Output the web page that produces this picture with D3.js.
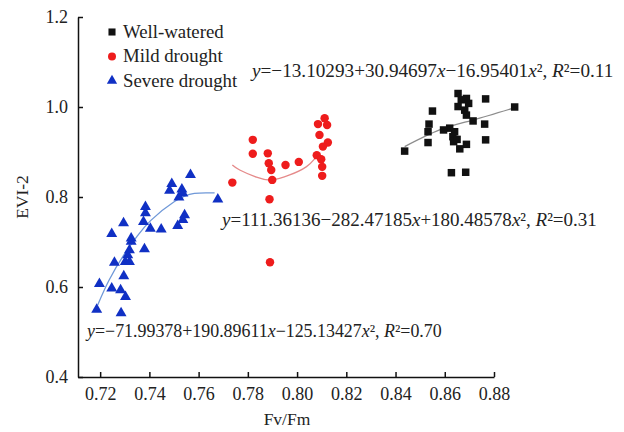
<!DOCTYPE html>
<html>
<head>
<meta charset="utf-8">
<script src="https://cdn.jsdelivr.net/npm/d3@7"></script>
<style>
  body { margin: 0; background: #fff; }
  svg text { font-family: "Liberation Serif", "Times New Roman", serif; fill: #222; }
</style>
</head>
<body>
<svg id="chart" width="624" height="432"></svg>
<script>
// data
let wellX = [0.8654, 0.8688, 0.8667, 0.8697, 0.8654, 0.8681, 0.8688, 0.8715, 0.8766, 0.8884, 0.8550, 0.8762, 0.8536, 0.8532,
             0.8620, 0.8640, 0.8633, 0.8636, 0.8532, 0.8766, 0.8688, 0.8661, 0.8437, 0.8627, 0.8685, 0.8595, 0.8650];
let wellY = [1.030, 1.019, 1.016, 1.008, 1.001, 0.993, 0.982, 0.969, 1.018, 1.000, 0.991, 0.962, 0.962, 0.945,
             0.953, 0.945, 0.934, 0.923, 0.921, 0.927, 0.917, 0.907, 0.902, 0.854, 0.855, 0.949, 0.928];

let mildX = [0.7737, 0.7820, 0.7820, 0.7881, 0.7885, 0.7895, 0.7899, 0.7953, 0.8007, 0.7888, 0.7890,
             0.8112, 0.8085, 0.8122, 0.8091, 0.8125, 0.8105, 0.8080, 0.8098, 0.8102, 0.8102];
let mildY = [0.832, 0.927, 0.896, 0.897, 0.875, 0.860, 0.838, 0.871, 0.878, 0.795, 0.655,
             0.975, 0.962, 0.960, 0.938, 0.921, 0.912, 0.893, 0.884, 0.867, 0.847];

let severeX = [0.7567, 0.7491, 0.7482, 0.7532, 0.7536, 0.7520, 0.7678, 0.7384, 0.7384, 0.7376, 0.7295, 0.7543, 0.7536, 0.7515,
               0.7404, 0.7448, 0.7247, 0.7326, 0.7326, 0.7319, 0.7380, 0.7312, 0.7258, 0.7302, 0.7319, 0.7296, 0.7197, 0.7247,
               0.7283, 0.7303, 0.7186, 0.7285];
let severeY = [0.849, 0.829, 0.814, 0.817, 0.808, 0.799, 0.795, 0.778, 0.764, 0.745, 0.742, 0.760, 0.749, 0.736,
               0.730, 0.728, 0.718, 0.708, 0.701, 0.682, 0.684, 0.671, 0.654, 0.656, 0.656, 0.624, 0.607, 0.597,
               0.593, 0.578, 0.550, 0.542];

// fitted curves
let fitWellX = [0.8437, 0.8579, 0.8715, 0.8888];
let fitWellY = [0.912, 0.949, 0.971, 0.999];
let fitMildX = [0.7737, 0.7767, 0.7835, 0.7896, 0.7970, 0.8037, 0.8075];
let fitMildY = [0.871, 0.860, 0.844, 0.838, 0.849, 0.867, 0.887];
let fitSevereX = [0.7190, 0.7236, 0.7297, 0.7352, 0.7406, 0.7502, 0.7583, 0.7665];
let fitSevereY = [0.560, 0.615, 0.672, 0.714, 0.748, 0.790, 0.808, 0.809];

let seriesNames = ["Well-watered", "Mild drought", "Severe drought"];
let xTicks = [0.72, 0.74, 0.76, 0.78, 0.80, 0.82, 0.84, 0.86, 0.88];
let yTicks = [0.4, 0.6, 0.8, 1.0, 1.2];

let equations = [
  ["y", "=−13.10293+30.94697", "x", "−16.95401", "x", "², ", "R", "²=0.11"],
  ["y", "=111.36136−282.47185", "x", "+180.48578", "x", "², ", "R", "²=0.31"],
  ["y", "=−71.99378+190.89611", "x", "−125.13427", "x", "², ", "R", "²=0.70"]
];

const svg = d3.select("#chart");

const x = d3.scaleLinear().domain([0.711, 0.88]).range([78, 494]);
const y = d3.scaleLinear().domain([0.4, 1.2]).range([377, 17]);

const colors = ["#111111", "#ee1c1c", "#1030c4"];
const fitColors = ["#8c8c8c", "#e58a8a", "#6f98d8"];
const shapes = [d3.symbolSquare, d3.symbolCircle, d3.symbolTriangle];
const sizes = [56, 56, 52];

// axes
const xAxis = svg.append("g").attr("transform", "translate(0,377)")
  .call(d3.axisBottom(x).tickValues(xTicks).tickFormat(d3.format(".2f"))
        .tickSizeInner(-5).tickSizeOuter(0).tickPadding(10));
const yAxis = svg.append("g").attr("transform", "translate(78,0)")
  .call(d3.axisLeft(y).tickValues(yTicks).tickFormat(d3.format(".1f"))
        .tickSizeInner(-5).tickSizeOuter(0).tickPadding(10));
[xAxis, yAxis].forEach(g => {
  g.select(".domain").attr("stroke", "#111").attr("stroke-width", 1.5);
  g.selectAll(".tick line").attr("stroke", "#111").attr("stroke-width", 1.5);
  g.selectAll("text").attr("font-family", "Liberation Serif").attr("font-size", 18).attr("fill", "#222");
});

svg.append("text").attr("x", 287).attr("y", 425).attr("text-anchor", "middle")
  .attr("font-size", 17.5).text("Fv/Fm");
svg.append("text").attr("transform", "translate(28,197) rotate(-90)").attr("text-anchor", "middle")
  .attr("font-size", 17.5).text("EVI-2");

// fit lines
const line = d3.line().x(d => x(d[0])).y(d => y(d[1])).curve(d3.curveNatural);
[[fitWellX, fitWellY], [fitMildX, fitMildY], [fitSevereX, fitSevereY]].forEach((f, i) => {
  svg.append("path")
    .attr("d", line(d3.zip(f[0], f[1])))
    .attr("fill", "none").attr("stroke", fitColors[i]).attr("stroke-width", 1.3);
});

// points
[[wellX, wellY], [mildX, mildY], [severeX, severeY]].forEach((s, i) => {
  svg.append("g").selectAll("path")
    .data(d3.zip(s[0], s[1]))
    .join("path")
    .attr("d", d3.symbol().type(shapes[i]).size(sizes[i]))
    .attr("transform", d => `translate(${x(d[0])},${y(d[1])})`)
    .attr("fill", colors[i]);
});

// legend
const legend = svg.append("g").attr("transform", "translate(112,32)");
seriesNames.forEach((name, i) => {
  legend.append("path")
    .attr("d", d3.symbol().type(shapes[i]).size(sizes[i] - 6))
    .attr("transform", `translate(0,${i * 24.4})`)
    .attr("fill", colors[i]);
  legend.append("text").attr("x", 11).attr("y", i * 24.4 + 6)
    .attr("font-size", 18.8).text(name);
});

// equations
const eqPos = [[252, 77], [222, 226], [87, 337]];
const eqSize = [19.2, 19, 17.9];
equations.forEach((parts, i) => {
  const t = svg.append("text").attr("x", eqPos[i][0]).attr("y", eqPos[i][1]).attr("font-size", eqSize[i]);
  parts.forEach((p, j) => {
    const italic = (j === 0 || j === 2 || j === 4 || j === 6);
    t.append("tspan").attr("font-style", italic ? "italic" : "normal").text(p);
  });
});
</script>
</body>
</html>
